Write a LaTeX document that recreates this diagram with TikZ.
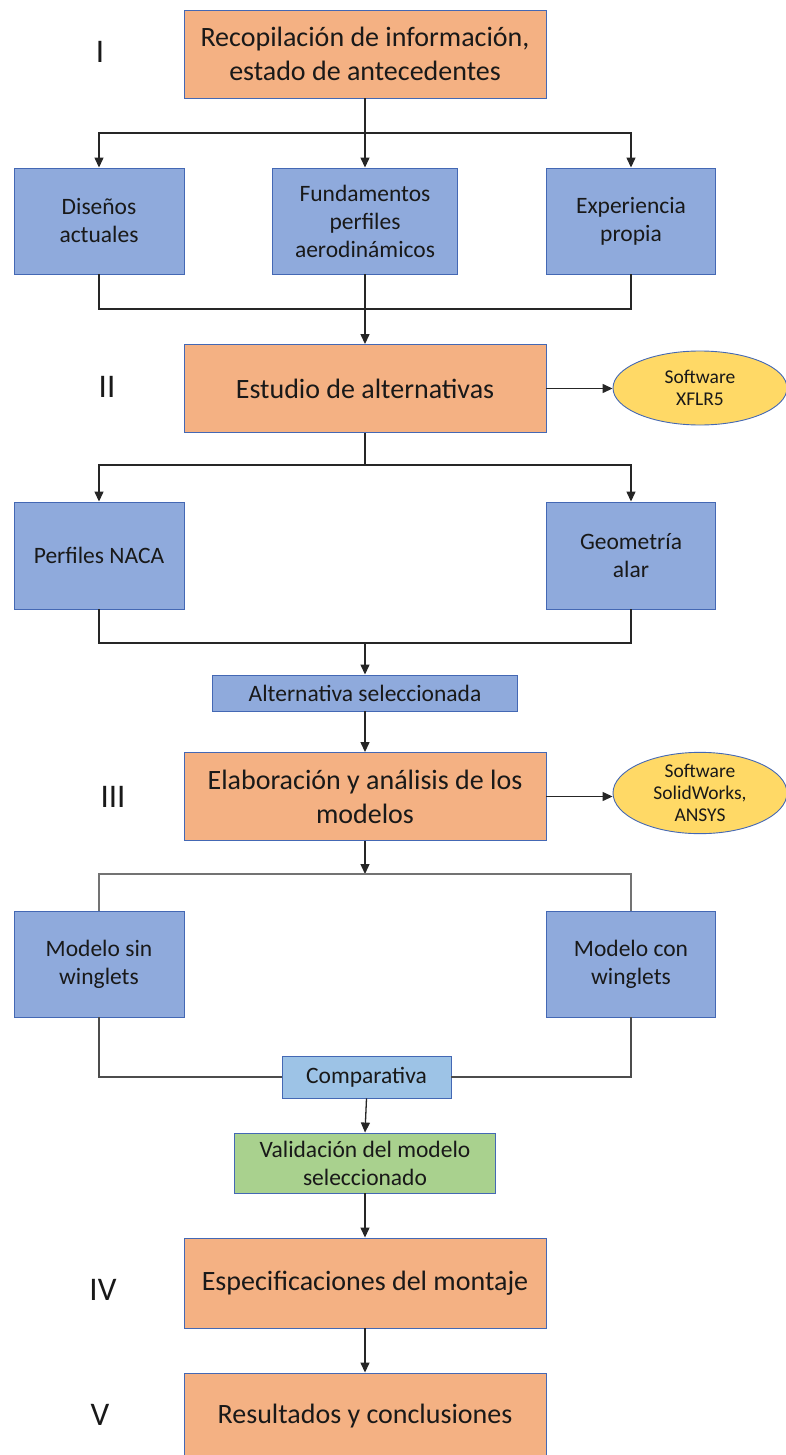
\documentclass[tikz,border=0pt]{standalone}
\usepackage{fontspec}
\setmainfont{Carlito}
\usetikzlibrary{arrows.meta, positioning, shapes.geometric}
\definecolor{stageorange}{RGB}{244,177,131}
\definecolor{topicblue}{RGB}{143,170,220}
\definecolor{compblue}{RGB}{157,195,230}
\definecolor{validgreen}{RGB}{169,209,142}
\definecolor{softyellow}{RGB}{255,217,102}
\definecolor{edgeblue}{RGB}{68,104,180}
\definecolor{inkgray}{RGB}{25,25,25}

\begin{document}
\begin{tikzpicture}[
    x=1pt, y=1pt,
    stage/.style = {rectangle, draw=edgeblue, fill=stageorange, line width=0.9pt,
                    minimum width=362pt, minimum height=88pt, align=center,
                    text=inkgray, font=\fontsize{28}{34}\selectfont},
    topic/.style = {rectangle, draw=edgeblue, fill=topicblue, line width=0.9pt,
                    minimum width=170pt, minimum height=106pt, align=center,
                    text=inkgray, font=\fontsize{23.5}{28}\selectfont},
    note/.style  = {rectangle, draw=edgeblue, line width=0.9pt, align=center,
                    text=inkgray, font=\fontsize{23.5}{28}\selectfont},
    soft/.style  = {ellipse, draw=edgeblue, fill=softyellow, line width=0.9pt,
                    minimum width=174pt, minimum height=74pt, align=center, inner sep=0pt,
                    text=inkgray, font=\fontsize{19.5}{22}\selectfont},
    roman/.style = {text=inkgray, font=\fontsize{33}{36}\selectfont},
    wire/.style  = {line width=1.3pt, black!85},
    arr/.style   = {wire, -{Triangle[length=10pt, width=9pt]}},
]
\useasboundingbox (0,0) rectangle (785,-1455);

% ---- stage I ---------------------------------------------------------------
\node[stage] (info) at (365,-54) {Recopilación de información,\\estado de antecedentes};
\node[roman] (r1) at (100,-52) {I};
\coordinate (s1) at (365,-133);
\node[topic] (dis) at (99,-221) {Diseños\\actuales};
\node[topic, minimum width=185pt] (fund) at (365,-221) {Fundamentos\\perfiles\\aerodinámicos};
\node[topic, minimum width=169pt] (exp) at (631,-221) {Experiencia\\propia};
\draw[wire] (info) -- (s1);
\draw[arr] (s1) -| (dis.north);
\draw[arr] (s1) -| (exp.north);
\draw[arr] (s1) -- (fund.north);

% ---- stage II --------------------------------------------------------------
\node[stage] (alt) at (365,-388.5) {Estudio de alternativas};
\node[roman] (r2) at (107,-387) {II};
\node[soft] (xflr) at (700,-388) {Software\\XFLR5};
\coordinate (j1) at (365,-309);
\draw[wire] (dis.south) |- (j1) -| (exp.south);
\draw[arr] (fund.south) -- (alt.north);
\draw[arr] (alt.east) -- (alt.east -| xflr.west);

\coordinate (s2) at (365,-465);
\node[topic, minimum height=107pt] (naca) at (99,-555.5) {Perfiles NACA};
\node[topic, minimum width=169pt, minimum height=107pt] (geo) at (631,-555.5) {Geometría\\alar};
\draw[wire] (alt) -- (s2);
\draw[arr] (s2) -| (naca.north);
\draw[arr] (s2) -| (geo.north);

\coordinate (j2) at (365,-643);
\node[note, fill=topicblue, minimum width=305pt, minimum height=36pt] (sel) at (365,-693) {Alternativa seleccionada};
\draw[wire] (naca.south) |- (j2) -| (geo.south);
\draw[arr] (j2) -- (sel.north);

% ---- stage III -------------------------------------------------------------
\node[stage] (model) at (365,-796.5) {Elaboración y análisis de los\\modelos};
\node[roman] (r3) at (113,-797) {III};
\node[soft, minimum height=76pt] (cad) at (700,-793) {Software\\SolidWorks,\\ANSYS};
\draw[arr] (sel.south) -- (model.north);
\draw[arr] (model.east) -- (model.east -| cad.west);

\coordinate (s3) at (365,-874);
\node[topic] (sin) at (99,-964) {Modelo sin\\winglets};
\node[topic, minimum width=169pt] (con) at (631,-964) {Modelo con\\winglets};
\draw[arr] (model.south) -- (s3);
\draw[wire, black!55] (sin.north) |- (s3) -| (con.north);

\node[note, fill=compblue, minimum width=169pt, minimum height=42pt] (comp) at (366.5,-1077) {Comparativa};
\node[note, fill=validgreen, minimum width=261pt, minimum height=60pt] (valid) at (365,-1163) {Validación del modelo\\seleccionado};
\draw[wire, black!70] (sin.south) |- (comp.west);
\draw[wire, black!70] (con.south) |- (comp.east);
\draw[arr] (comp.south) -- (valid.north);

% ---- stages IV and V ---------------------------------------------------------
\node[stage, minimum height=90pt] (spec) at (365,-1283) {Especificaciones del montaje};
\node[roman] (r4) at (103,-1290) {IV};
\node[stage, minimum height=100pt, text depth=19pt] (resul) at (365,-1423) {Resultados y conclusiones};
\node[roman] (r5) at (100,-1415) {V};
\draw[arr] (valid.south) -- (spec.north);
\draw[arr] (spec.south) -- (resul.north);
\end{tikzpicture}
\end{document}
